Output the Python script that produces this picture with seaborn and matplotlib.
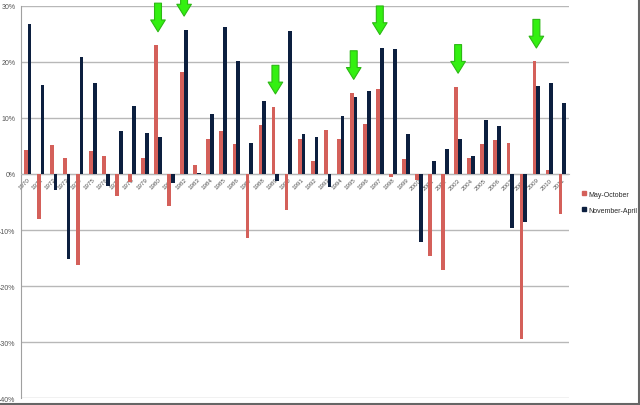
import pandas as pd
import numpy as np
import matplotlib
matplotlib.use('Agg')
import matplotlib.pyplot as plt
import seaborn as sns
from matplotlib.lines import Line2D
from matplotlib.patches import Rectangle

# Seasonal returns per year (percent)
years = list(range(1970, 2012))
may_oct = [4.2, -8.0, 5.2, 2.8, -16.3, 4.1, 3.2, -4.0, -1.5, 2.8,
           23.0, -5.8, 18.2, 1.6, 6.3, 7.7, 5.4, -11.4, 8.8, 11.9,
           -6.5, 6.2, 2.4, 7.8, 6.2, 14.5, 9.0, 15.2, -0.5, 2.6,
           -1.1, -14.7, -17.1, 15.6, 2.9, 5.3, 6.1, 5.5, -29.4, 20.1,
           0.7, -7.1]
nov_apr = [26.8, 15.9, -2.9, -15.1, 20.9, 16.3, -2.2, 7.7, 12.2, 7.3,
           6.6, -1.6, 25.8, 0.2, 10.7, 26.3, 20.1, 5.5, 13.0, -1.2,
           25.6, 7.2, 6.6, -2.4, 10.4, 13.7, 14.8, 22.5, 22.3, 7.1,
           -12.2, 2.3, 4.4, 6.2, 3.2, 9.6, 8.6, -9.7, -8.6, 15.7,
           16.3, 12.7]
series_names = ['May-October', 'November-April']
arrow_years = [1980, 1982, 1989, 1995, 1997, 2003, 2009]
y_ticks = [-40, -30, -20, -10, 0, 10, 20, 30]

colors = ['#d4605a', '#0c1f3f']

df = pd.DataFrame({
    'Year': [str(y) for y in years] * 2,
    'Return': may_oct + nov_apr,
    'Season': [series_names[0]] * len(years) + [series_names[1]] * len(years),
})

sns.set_style('white')
plt.rcParams['font.family'] = ['Liberation Sans', 'DejaVu Sans']

fig = plt.figure(figsize=(6.4, 4.06), dpi=100)
ax = fig.add_axes([21 / 640, 0.0172, (569 - 21) / 640, 0.9656])

sns.barplot(data=df, x='Year', y='Return', hue='Season', hue_order=series_names,
            palette=colors, saturation=1, width=0.58, errorbar=None,
            linewidth=0, ax=ax, zorder=3)

ax.set_ylim(-40, 30)
ax.set_xlim(-0.5, len(years) - 0.5)
ax.set_yticks(y_ticks)
ax.set_yticklabels(['%d%%' % t for t in y_ticks], fontsize=5, color='#555555')
ax.yaxis.grid(True, color='#b8b8b8', linewidth=1)
ax.set_axisbelow(True)
ax.set_xlabel('')
ax.set_ylabel('')

for s in ['top', 'right']:
    ax.spines[s].set_visible(False)
ax.spines['left'].set_color('#a0a0a0')
ax.spines['bottom'].set_position(('data', 0))
ax.spines['bottom'].set_color('#b8b8b8')
ax.tick_params(axis='x', length=0, pad=2)
ax.tick_params(axis='y', length=2, color='#a0a0a0', pad=2)
for lab in ax.get_xticklabels():
    lab.set_rotation(45)
    lab.set_ha('right')
    lab.set_va('top')
    lab.set_rotation_mode('anchor')
    lab.set_fontsize(4.5)
    lab.set_color('#555555')

# green arrows above selected years
for yr in arrow_years:
    i = years.index(yr)
    top = max(may_oct[i], nov_apr[i])
    ax.annotate('', xy=(i, top + 1.9), xytext=(i, top + 8.0),
                arrowprops=dict(arrowstyle='simple,head_length=0.85,head_width=1.05,tail_width=0.5',
                                fc='#33f011', ec='#2cb814', lw=0.8),
                annotation_clip=False, zorder=5)

# legend
ax.get_legend().remove()
handles = [Rectangle((0, 0), 1, 1, color=c) for c in colors]
fig.legend(handles, series_names, loc='upper left', bbox_to_anchor=(0.905, 0.535),
           frameon=False, fontsize=5, handlelength=0.55, handleheight=0.55,
           handletextpad=0.4, labelspacing=1.3, borderaxespad=0)

# outer frame on bottom and right edges
fig.add_artist(Line2D([0, 1], [0.002, 0.002], transform=fig.transFigure, color='#666666', lw=1.5))
fig.add_artist(Line2D([0.998, 0.998], [0, 1], transform=fig.transFigure, color='#666666', lw=1.5))

fig.savefig('out.png', dpi=100)
